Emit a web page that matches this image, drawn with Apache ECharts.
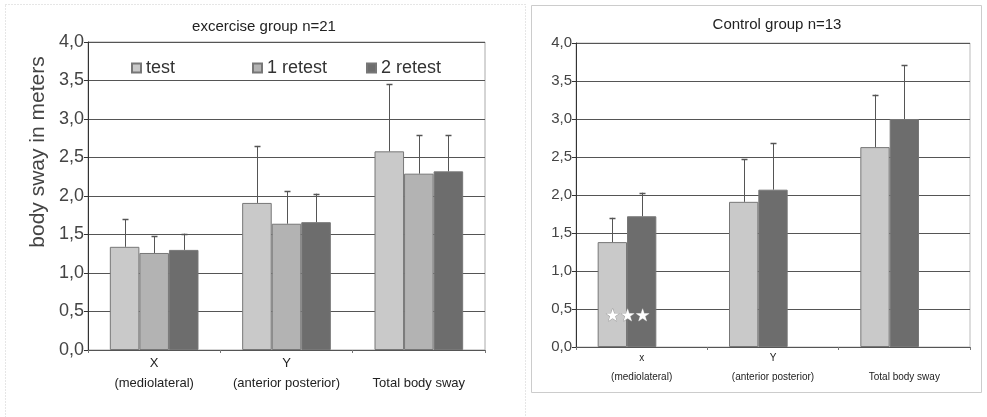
<!DOCTYPE html>
<html><head><meta charset="utf-8">
<script src="https://cdn.jsdelivr.net/npm/echarts@6/dist/echarts.min.js"></script>
<style>html,body{margin:0;padding:0;background:#fff}#c{width:987px;height:417px}</style>
</head><body><div id="c"></div>
<script>
// ---- data ----
const categoriesLeft = ['X\n(mediolateral)', 'Y\n(anterior posterior)', ' \nTotal body sway'];
const categoriesRight = ['x\n(mediolateral)', 'Y\n(anterior posterior)', ' \nTotal body sway'];
const yTicks = [0, 0.5, 1, 1.5, 2, 2.5, 3, 3.5, 4];

const exTest = [1.34, 1.91, 2.58];
const exTestTop = [1.70, 2.65, 3.45];
const exRetest1 = [1.26, 1.64, 2.29];
const exRetest1Top = [1.48, 2.06, 2.79];
const exRetest2 = [1.30, 1.66, 2.32];
const exRetest2Top = [1.51, 2.03, 2.79];

const ctTest = [1.38, 1.91, 2.63];
const ctTestTop = [1.70, 2.47, 3.32];
const ctRetest = [1.72, 2.07, 3.00];
const ctRetestTop = [2.03, 2.68, 3.71];
const ctEmpty = [null, null, null];

const titleLeft = 'excercise group n=21';
const titleRight = 'Control group n=13';
const yName = 'body sway in meters';
const starsText = '★★★';

// ---- styling ----
const FONT = 'Liberation Sans, Arial, sans-serif';
const cTest = '#c9c9c9', cR1 = '#b3b3b3', cR2 = '#6d6d6d';
const GAP = 0.33;

function errSeries(means, tops, slot, xi) {
  return {
    type: 'custom', xAxisIndex: xi, yAxisIndex: xi, z: 10, silent: true,
    data: means.map((m, i) => [i, m, tops[i]]),
    encode: { x: 0, y: [1, 2] },
    renderItem: function (params, api) {
      const i = api.value(0), m = api.value(1), t = api.value(2);
      const p0 = api.coord([i, m]), p1 = api.coord([i, t]);
      const band = api.size([1, 0])[0];
      const bw = band * (1 - GAP) / 3;
      const x = Math.round(p0[0] + (slot - 1) * bw) + 0.5;
      const st = { stroke: '#555', lineWidth: 1 };
      return { type: 'group', children: [
        { type: 'line', shape: { x1: x, y1: p0[1], x2: x, y2: p1[1] }, style: st },
        { type: 'line', shape: { x1: x - 3, y1: Math.round(p1[1]) + 0.5, x2: x + 3, y2: Math.round(p1[1]) + 0.5 }, style: { stroke: '#555', lineWidth: 1.5 } }
      ]};
    }
  };
}
function bar(name, data, color, xi, extra) {
  return Object.assign({
    name: name, type: 'bar', xAxisIndex: xi, yAxisIndex: xi, data: data,
    barGap: '0%', barCategoryGap: (GAP * 100) + '%',
    itemStyle: { color: color, borderColor: '#777', borderWidth: 1 }
  }, extra || {});
}
function yAxisCfg(gi, fs) {
  return {
    type: 'value', gridIndex: gi, min: yTicks[0], max: yTicks[yTicks.length - 1], interval: 0.5,
    axisLine: { show: true, lineStyle: { color: '#333', width: 1 } },
    axisTick: { show: true, length: 4, lineStyle: { color: '#333' } },
    axisLabel: { fontFamily: FONT, fontSize: fs, color: '#444', margin: 4,
      formatter: v => v.toFixed(1).replace('.', ',') },
    splitLine: { show: true, lineStyle: { color: '#555', width: 1 } }
  };
}
function xAxisCfg(gi, cats, fs, lh, mg) {
  return {
    type: 'category', gridIndex: gi, data: cats,
    axisLine: { show: true, lineStyle: { color: '#555' } },
    axisTick: { show: true, length: 3, lineStyle: { color: '#777' } },
    axisLabel: { fontFamily: FONT, fontSize: fs, color: '#222', margin: mg, lineHeight: lh, interval: 0 }
  };
}

const chart = echarts.init(document.getElementById('c'), null, { renderer: 'canvas' });
chart.setOption({
  animation: false,
  backgroundColor: '#fff',
  title: [
    { text: titleLeft, left: 259, top: 14, textAlign: 'center',
      textStyle: { fontFamily: FONT, fontSize: 15, fontWeight: 'normal', color: '#222' } },
    { text: titleRight, left: 772, top: 12, textAlign: 'center',
      textStyle: { fontFamily: FONT, fontSize: 15, fontWeight: 'normal', color: '#222' } }
  ],
  legend: [
    { data: ['test'], left: 126, top: 54, itemWidth: 9, itemHeight: 9, icon: 'rect', itemGap: 0,
      textStyle: { fontFamily: FONT, fontSize: 18, color: '#333' } },
    { data: ['1 retest'], left: 247, top: 54, itemWidth: 9, itemHeight: 9, icon: 'rect',
      textStyle: { fontFamily: FONT, fontSize: 18, color: '#333' } },
    { data: ['2 retest'], left: 361, top: 54, itemWidth: 9, itemHeight: 9, icon: 'rect',
      textStyle: { fontFamily: FONT, fontSize: 18, color: '#333' } }
  ],
  grid: [
    { left: 88, right: 502, top: 42, bottom: 67, show: true, borderColor: '#aaa', borderWidth: 1 },
    { left: 576, right: 17, top: 43, bottom: 70, show: true, borderColor: '#bbb', borderWidth: 1 }
  ],
  xAxis: [xAxisCfg(0, categoriesLeft, 13, 20, 3), xAxisCfg(1, categoriesRight, 10, 19, 2)],
  yAxis: [yAxisCfg(0, 18), yAxisCfg(1, 15)],
  graphic: [
    { type: 'rect', shape: { x: 5.5, y: 4.5, width: 520, height: 420 }, silent: true,
      style: { fill: 'none', stroke: '#ccc', lineWidth: 1, lineDash: [1, 2] } },
    { type: 'rect', shape: { x: 531.5, y: 5.5, width: 450, height: 387 }, silent: true,
      style: { fill: 'none', stroke: '#ccc', lineWidth: 1 } },
    { type: 'text', x: 38, y: 152, rotation: Math.PI / 2, silent: true,
      style: { text: yName, fontFamily: FONT, fontSize: 21, fill: '#444', align: 'center', verticalAlign: 'middle' } }
  ],
  series: [
    bar('test', exTest, cTest, 0),
    bar('1 retest', exRetest1, cR1, 0),
    bar('2 retest', exRetest2, cR2, 0),
    errSeries(exTest, exTestTop, 0, 0),
    errSeries(exRetest1, exRetest1Top, 1, 0),
    errSeries(exRetest2, exRetest2Top, 2, 0),
    bar('control test', ctTest, cTest, 1, {
      markPoint: {
        symbol: 'circle', symbolSize: 0, silent: true, z: 30,
        data: [{ coord: [0, 0.4], value: 0 }],
        label: { show: true, formatter: starsText, fontSize: 17, color: '#fff',
          textBorderColor: '#999', textBorderWidth: 1, offset: [15, 0], position: 'inside' }
      }
    }),
    bar('control retest', ctRetest, cR2, 1),
    bar('control none', ctEmpty, cR1, 1),
    errSeries(ctTest, ctTestTop, 0, 1),
    errSeries(ctRetest, ctRetestTop, 1, 1)
  ]
});
</script>
</body></html>
